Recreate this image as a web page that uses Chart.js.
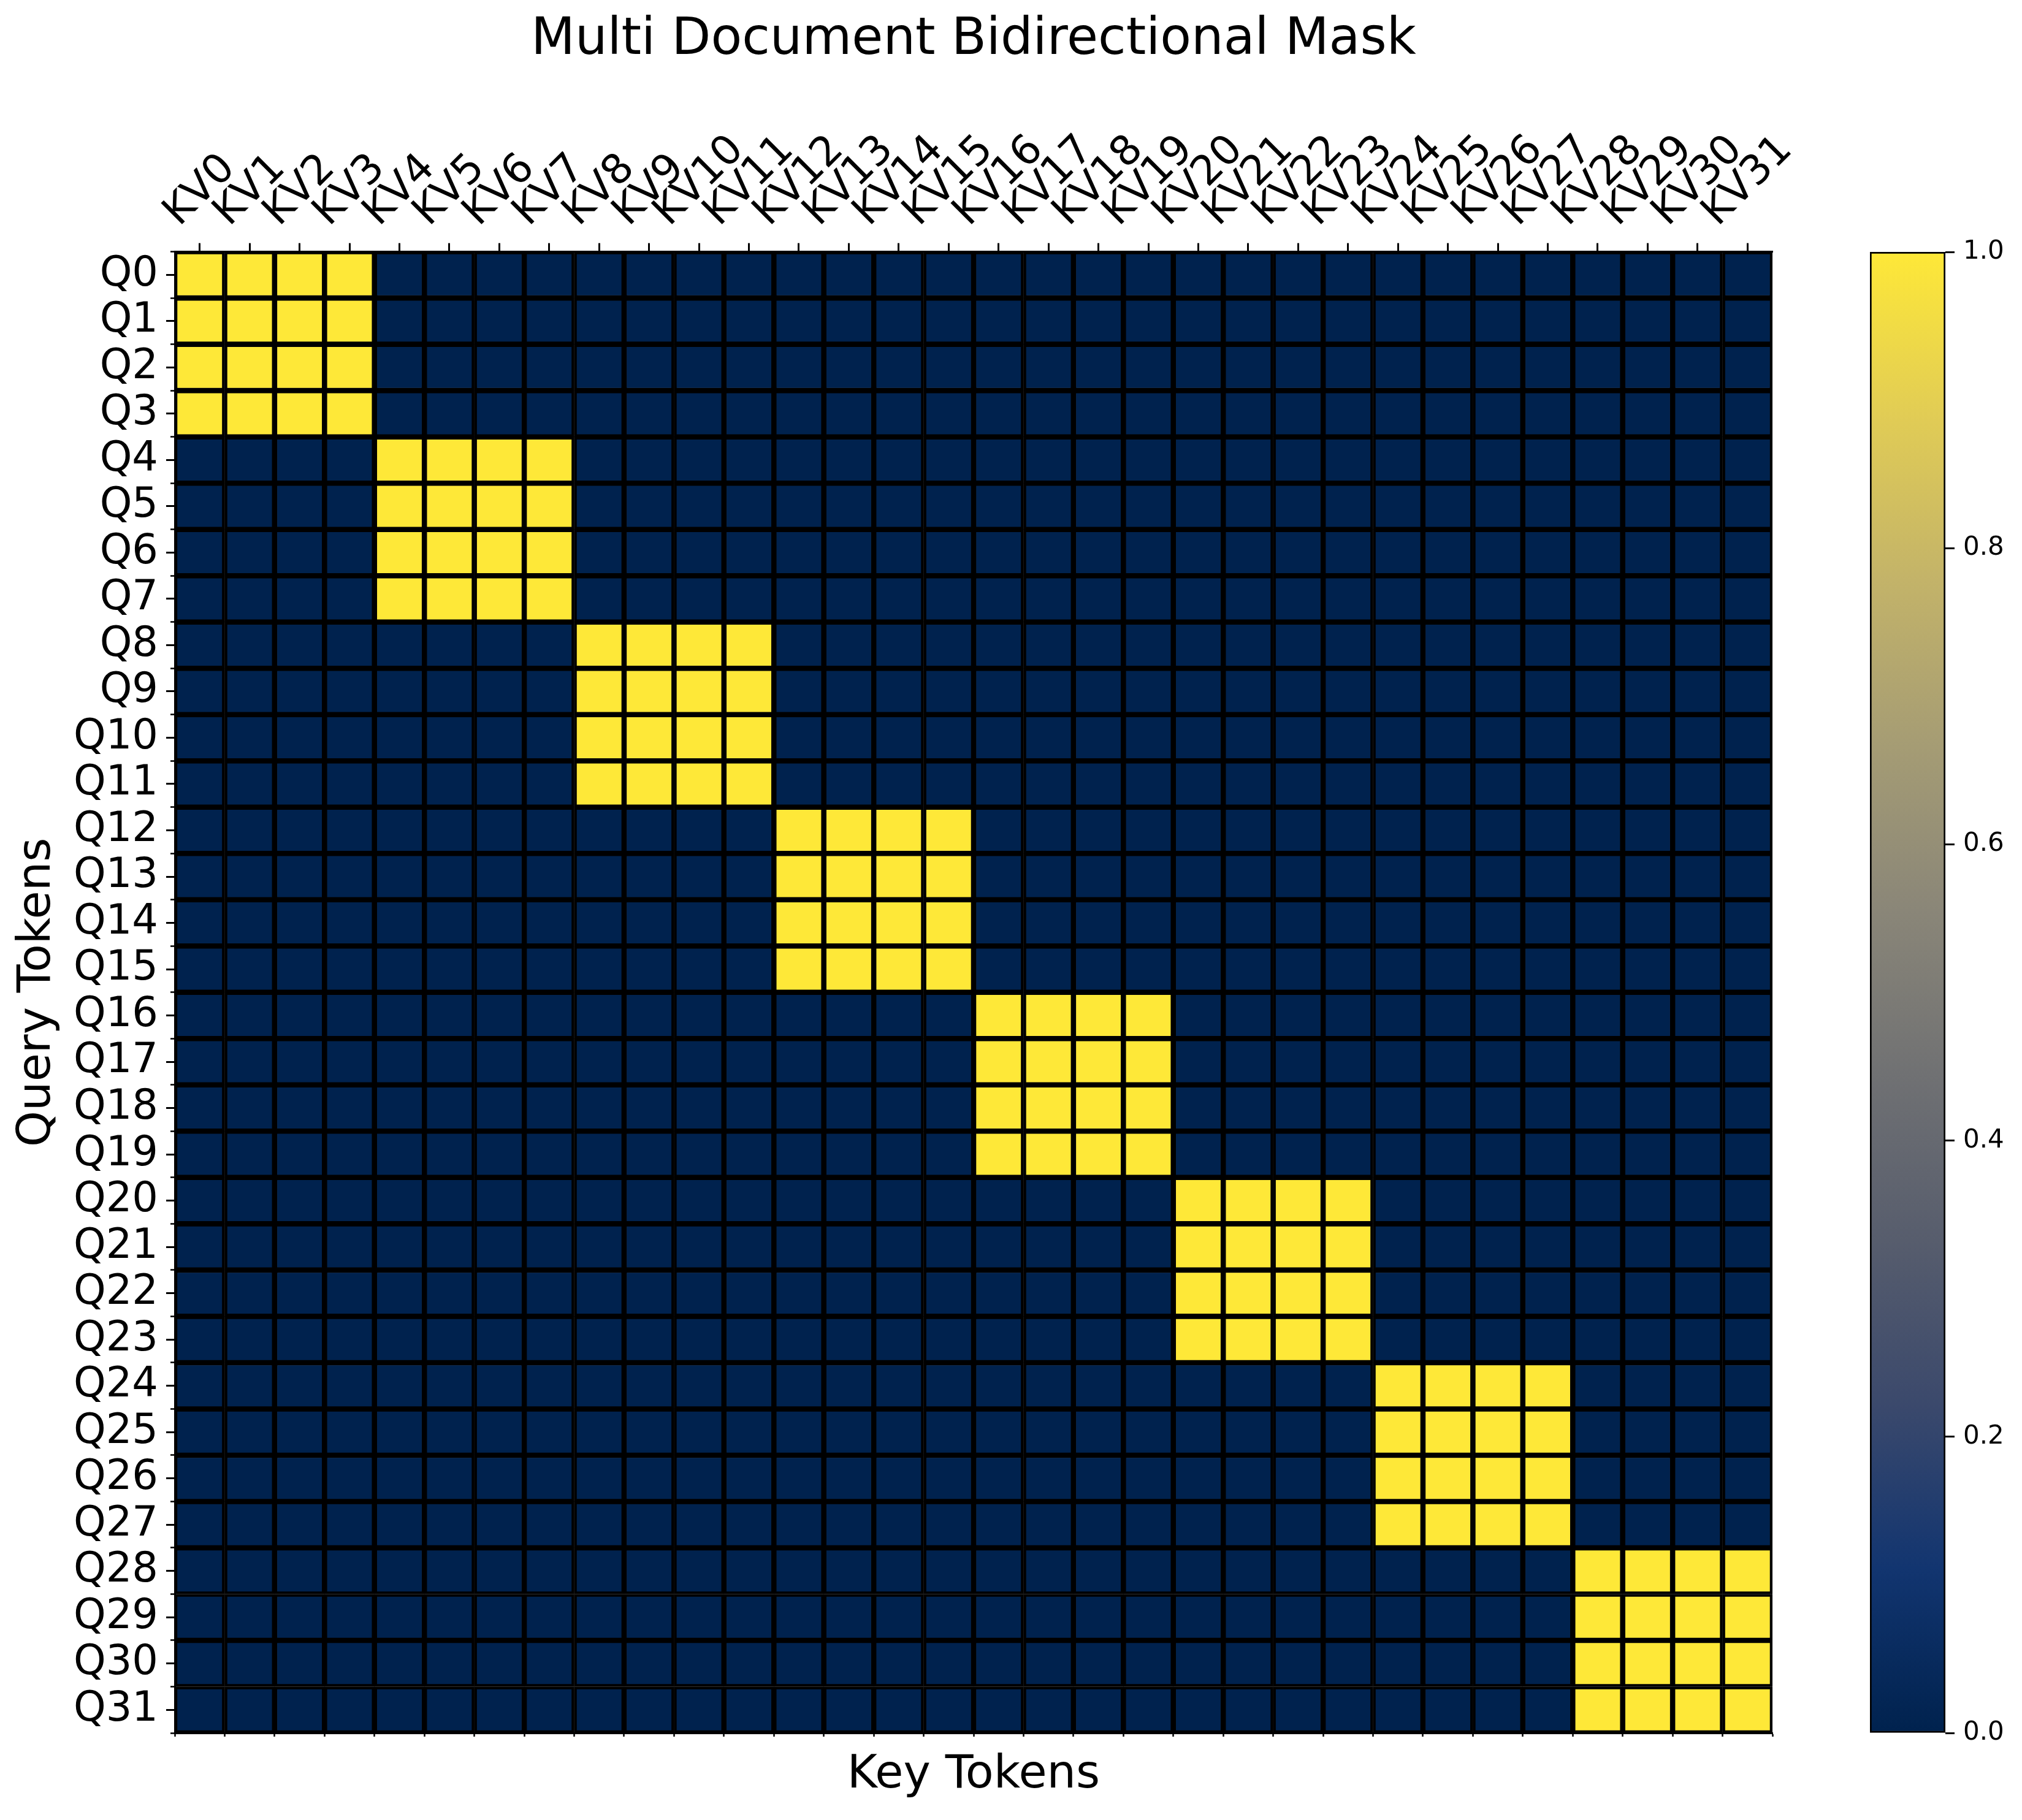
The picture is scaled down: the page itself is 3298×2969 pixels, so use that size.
<!DOCTYPE html>
<html>
<head>
<meta charset="utf-8">
<script src="https://cdn.jsdelivr.net/npm/chart.js@4.4.1/dist/chart.umd.min.js"></script>
<style>
  html, body { margin: 0; padding: 0; background: #ffffff; }
  #wrap { position: relative; width: 3298px; height: 2969px; overflow: hidden; background: #ffffff; }
  canvas { position: absolute; top: 0; }
  #main { left: 0; }
  #cbar { left: 3000px; }
</style>
</head>
<body>
<div id="wrap">
  <canvas id="main" width="3298" height="2969"></canvas>
  <canvas id="cbar" width="298" height="2969"></canvas>
</div>
<script>
// ---------------- data ----------------
const chartTitle = 'Multi Document Bidirectional Mask';
const xAxisTitle = 'Key Tokens';
const yAxisTitle = 'Query Tokens';

const keyLabels = ['KV0','KV1','KV2','KV3','KV4','KV5','KV6','KV7','KV8','KV9','KV10','KV11','KV12','KV13','KV14','KV15',
                   'KV16','KV17','KV18','KV19','KV20','KV21','KV22','KV23','KV24','KV25','KV26','KV27','KV28','KV29','KV30','KV31'];
const queryLabels = ['Q0','Q1','Q2','Q3','Q4','Q5','Q6','Q7','Q8','Q9','Q10','Q11','Q12','Q13','Q14','Q15',
                     'Q16','Q17','Q18','Q19','Q20','Q21','Q22','Q23','Q24','Q25','Q26','Q27','Q28','Q29','Q30','Q31'];

// mask values, one string per query row (1 = attend, 0 = masked)
const maskRows = [
  '1111 0000 0000 0000 0000 0000 0000 0000',
  '1111 0000 0000 0000 0000 0000 0000 0000',
  '1111 0000 0000 0000 0000 0000 0000 0000',
  '1111 0000 0000 0000 0000 0000 0000 0000',
  '0000 1111 0000 0000 0000 0000 0000 0000',
  '0000 1111 0000 0000 0000 0000 0000 0000',
  '0000 1111 0000 0000 0000 0000 0000 0000',
  '0000 1111 0000 0000 0000 0000 0000 0000',
  '0000 0000 1111 0000 0000 0000 0000 0000',
  '0000 0000 1111 0000 0000 0000 0000 0000',
  '0000 0000 1111 0000 0000 0000 0000 0000',
  '0000 0000 1111 0000 0000 0000 0000 0000',
  '0000 0000 0000 1111 0000 0000 0000 0000',
  '0000 0000 0000 1111 0000 0000 0000 0000',
  '0000 0000 0000 1111 0000 0000 0000 0000',
  '0000 0000 0000 1111 0000 0000 0000 0000',
  '0000 0000 0000 0000 1111 0000 0000 0000',
  '0000 0000 0000 0000 1111 0000 0000 0000',
  '0000 0000 0000 0000 1111 0000 0000 0000',
  '0000 0000 0000 0000 1111 0000 0000 0000',
  '0000 0000 0000 0000 0000 1111 0000 0000',
  '0000 0000 0000 0000 0000 1111 0000 0000',
  '0000 0000 0000 0000 0000 1111 0000 0000',
  '0000 0000 0000 0000 0000 1111 0000 0000',
  '0000 0000 0000 0000 0000 0000 1111 0000',
  '0000 0000 0000 0000 0000 0000 1111 0000',
  '0000 0000 0000 0000 0000 0000 1111 0000',
  '0000 0000 0000 0000 0000 0000 1111 0000',
  '0000 0000 0000 0000 0000 0000 0000 1111',
  '0000 0000 0000 0000 0000 0000 0000 1111',
  '0000 0000 0000 0000 0000 0000 0000 1111',
  '0000 0000 0000 0000 0000 0000 0000 1111'
];

const valueMin = 0;
const valueMax = 1;
const colorbarTicks = [0.0, 0.2, 0.4, 0.6, 0.8, 1.0];

// ---------------- styling ----------------
const cividisStops = ['#00224e', '#123570', '#3b496c', '#575d6d', '#707173',
                      '#8a8678', '#a59c74', '#c3b369', '#e1cc55', '#fee838'];

function hexToRgb(h) {
  return [parseInt(h.slice(1, 3), 16), parseInt(h.slice(3, 5), 16), parseInt(h.slice(5, 7), 16)];
}
function cividis(v) {
  let t = (v - valueMin) / (valueMax - valueMin);
  t = Math.max(0, Math.min(1, t));
  const pos = t * (cividisStops.length - 1);
  const k = Math.min(Math.floor(pos), cividisStops.length - 2);
  const f = pos - k;
  const a = hexToRgb(cividisStops[k]), b = hexToRgb(cividisStops[k + 1]);
  const c = a.map((x, n) => Math.round(x + (b[n] - x) * f));
  return 'rgb(' + c.join(',') + ')';
}
function cellValue(i, j) {
  return Number(maskRows[i].replace(/ /g, '')[j]);
}

Chart.defaults.font.family = "'DejaVu Sans', sans-serif";
Chart.defaults.color = '#000000';

function zeroPad(s) { s.paddingLeft = 0; s.paddingRight = 0; s.paddingTop = 0; s.paddingBottom = 0; }
const fixW = w => s => { s.width = w; zeroPad(s); };
const fixH = h => s => { s.height = h; zeroPad(s); };

// rotated top labels: centre each label's rotated box on its tick (shorter labels move right)
const centerRotatedLabels = {
  id: 'centerRotatedLabels',
  beforeDraw(chart) {
    const s = chart.scales.x;
    if (!s || typeof s.getLabelItems !== 'function') return;
    const items = s.getLabelItems();
    if (!items || !items.length || items._centered) return;
    const ctx = chart.ctx;
    ctx.save();
    const widths = items.map(it => {
      ctx.font = (it.font && it.font.string) || ctx.font;
      return ctx.measureText(String(it.label)).width;
    });
    ctx.restore();
    const wMax = Math.max.apply(null, widths);
    items.forEach((it, i) => {
      if (it.options && Array.isArray(it.options.translation)) {
        it.options.translation[0] += (wMax - widths[i]) * Math.SQRT1_2 / 2;
      }
    });
    items._centered = true;
  }
};

// ---------------- heatmap ----------------
new Chart(document.getElementById('main'), {
  type: 'bar',
  data: {
    labels: keyLabels,
    datasets: queryLabels.map((q, i) => ({
      label: q,
      data: keyLabels.map(() => 1),
      backgroundColor: keyLabels.map((_, j) => cividis(cellValue(i, j))),
      borderColor: '#000000',
      borderWidth: 4.6,
      borderSkipped: false,
      barPercentage: 1,
      categoryPercentage: 1,
      xAxisID: 'x',
      yAxisID: 'y'
    }))
  },
  plugins: [centerRotatedLabels],
  options: {
    responsive: false,
    animation: false,
    devicePixelRatio: 1,
    events: [],
    layout: { padding: { left: 0, top: 0, right: 407, bottom: 0 } },
    plugins: {
      legend: { display: false },
      tooltip: { enabled: false },
      title: {
        display: true,
        text: chartTitle,
        fullSize: false,
        color: '#000000',
        font: { size: 83, weight: 'normal' },
        padding: { top: 17, bottom: 0 }
      }
    },
    scales: {
      x: {
        type: 'category',
        position: 'top',
        stacked: true,
        offset: true,
        weight: 0,
        grid: { offset: false, drawOnChartArea: false, drawTicks: true, tickLength: 14, tickWidth: 3, tickColor: '#000000' },
        border: { display: true, color: '#000000', width: 3 },
        ticks: { autoSkip: false, minRotation: 45, maxRotation: 45, font: { size: 67 }, color: '#000000', padding: 10, labelOffset: -4 },
        afterFit: fixH(294)
      },
      x2: {
        type: 'category',
        position: 'bottom',
        labels: keyLabels,
        offset: true,
        grid: { offset: true, drawOnChartArea: false, drawTicks: true, tickLength: 6, tickWidth: 2.5, tickColor: '#000000' },
        border: { display: true, color: '#000000', width: 3 },
        ticks: { display: false },
        title: { display: true, text: xAxisTitle, color: '#000000', font: { size: 75 }, padding: { top: 0, bottom: 27 } },
        afterFit: fixH(142)
      },
      y: {
        type: 'linear',
        position: 'left',
        stacked: true,
        reverse: true,
        min: 0,
        max: queryLabels.length,
        weight: 1,
        afterBuildTicks: s => { s.ticks = queryLabels.map((_, i) => ({ value: i + 0.5 })); },
        grid: { drawOnChartArea: false, drawTicks: true, tickLength: 14, tickWidth: 3, tickColor: '#000000' },
        border: { display: true, color: '#000000', width: 3 },
        ticks: { autoSkip: false, font: { size: 67 }, color: '#000000', padding: 13, callback: (v, i) => queryLabels[i] },
        title: { display: true, text: yAxisTitle, color: '#000000', font: { size: 75 }, padding: { top: 17, bottom: 0 } },
        afterFit: fixW(285)
      },
      y2: {
        type: 'linear',
        position: 'left',
        reverse: true,
        min: 0,
        max: queryLabels.length,
        weight: 0,
        afterBuildTicks: s => { s.ticks = queryLabels.concat(['']).map((_, i) => ({ value: i })); },
        grid: { drawOnChartArea: false, drawTicks: true, tickLength: 7, tickWidth: 2.5, tickColor: '#000000' },
        border: { display: false },
        ticks: { display: false, autoSkip: false },
        afterFit: fixW(0)
      }
    }
  }
});

// ---------------- colorbar ----------------
new Chart(document.getElementById('cbar'), {
  type: 'bar',
  data: {
    labels: [''],
    datasets: [{
      data: [valueMax],
      backgroundColor: (ctx) => {
        const c = ctx.chart;
        const a = c.chartArea;
        if (!a) return cividisStops[0];
        const y0 = c.scales.y.getPixelForValue(valueMin);
        const y1 = c.scales.y.getPixelForValue(valueMax);
        const g = c.ctx.createLinearGradient(0, y0, 0, y1);
        cividisStops.forEach((col, k) => g.addColorStop(k / (cividisStops.length - 1), col));
        return g;
      },
      borderColor: '#000000',
      borderWidth: 3,
      borderSkipped: false,
      barPercentage: 1,
      categoryPercentage: 1
    }]
  },
  options: {
    responsive: false,
    animation: false,
    devicePixelRatio: 1,
    events: [],
    layout: { padding: { left: 50, top: 411, right: 0, bottom: 142 } },
    plugins: { legend: { display: false }, tooltip: { enabled: false } },
    scales: {
      x: { display: false, offset: true },
      y: {
        position: 'right',
        min: valueMin,
        max: valueMax,
        afterBuildTicks: s => { s.ticks = colorbarTicks.map(v => ({ value: v })); },
        grid: { drawOnChartArea: false, drawTicks: true, tickLength: 15, tickWidth: 3, tickColor: '#000000' },
        border: { display: false },
        ticks: { autoSkip: false, font: { size: 42 }, color: '#000000', padding: 14, callback: v => Number(v).toFixed(1) },
        afterFit: fixW(125)
      }
    }
  }
});
</script>
</body>
</html>
